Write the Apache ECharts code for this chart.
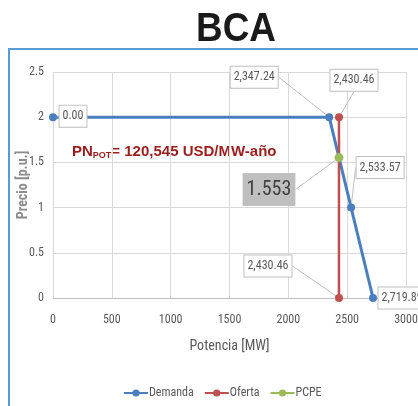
<!DOCTYPE html>
<html><head><meta charset="utf-8">
<script src="https://cdn.jsdelivr.net/npm/echarts@6/dist/echarts.min.js"></script>
<style>html,body{margin:0;padding:0;background:#fff}#c{width:418px;height:406px}</style>
</head><body><div id="c"></div>
<script>
var titleText = 'BCA';
var xTicks = [0, 500, 1000, 1500, 2000, 2500, 3000];
var yTicks = [0, 0.5, 1, 1.5, 2, 2.5];
var demandaX = [0, 2347.24, 2533.57, 2719.89];
var demandaY = [2, 2, 1, 0];
var ofertaX = [2430.46, 2430.46];
var ofertaY = [2, 0];
var pcpeX = [2430.46];
var pcpeY = [1.553];

var FONT = '"Liberation Sans Narrow", "Roboto Condensed", "Liberation Sans", sans-serif';
function fmt(v){ return v.toLocaleString('en-US',{minimumFractionDigits:2,maximumFractionDigits:2}); }
function pairs(xs, ys){ return xs.map(function(x,i){ return [x, ys[i]]; }); }

var boxLabel = {
  show: true, position: 'inside', fontFamily: FONT, fontSize: 12, color: '#595959',
  backgroundColor: '#fff', borderColor: '#bfbfbf', borderWidth: 1, padding: [5, 3, 4, 3],
  formatter: function(p){ return fmt(p.value[0]); }
};
var lblLine = { show: true, lineStyle: { color: '#bfbfbf', width: 1 } };

var demOff = [[20, -1], [-75, -40], [29, -40], [29, 0]];
var ofeOff = [[15, -37], [-71, -32]];
var pcpOff = [[-70, 32]];

var chart = echarts.init(document.getElementById('c'));
chart.setOption({
  animation: false,
  graphic: [
    { type: 'rect', shape: { x: 9, y: 49, width: 430, height: 380 }, style: { fill: 'none', stroke: '#5b9bd5', lineWidth: 2 }, z: -1 },
    { type: 'text', x: 236, y: 9, scaleX: 0.9, style: { text: titleText, textAlign: 'center', textVerticalAlign: 'top',
        font: 'bold 41px "Liberation Sans", sans-serif', fill: '#1a1a1a' } },
    { type: 'text', left: 72, top: 144, style: {
        text: '{a|PN}{b|POT}{a|= 120,545 USD/MW-año}',
        rich: {
          a: { fontFamily: '"Liberation Sans", sans-serif', fontWeight: 'bold', fontSize: 15, fill: '#9c1c1c', color: '#9c1c1c' },
          b: { fontFamily: '"Liberation Sans", sans-serif', fontWeight: 'bold', fontSize: 9, fill: '#9c1c1c', color: '#9c1c1c', padding: [9, 0, 0, 0] }
        } } }
  ],
  grid: { left: 53, top: 72, right: 12, bottom: 108, outerBoundsMode: 'none', containLabel: false },
  legend: {
    bottom: 2, left: 118, itemWidth: 24, itemHeight: 9, itemGap: 10,
    textStyle: { fontFamily: FONT, fontSize: 12, color: '#595959', padding: [0, 0, 0, -4] },
    data: ['Demanda', 'Oferta', 'PCPE']
  },
  xAxis: {
    type: 'value', min: 0, max: 3000, interval: 500,
    name: 'Potencia [MW]', nameLocation: 'middle', nameGap: 41, nameMoveOverlap: false,
    nameTextStyle: { fontFamily: FONT, fontSize: 14, color: '#595959' },
    axisLine: { show: true, lineStyle: { color: '#bfbfbf' } }, axisTick: { show: false },
    axisLabel: { fontFamily: FONT, fontSize: 12, color: '#595959', margin: 16, formatter: function(v){ return String(v); } },
    splitLine: { show: true, lineStyle: { color: '#d9d9d9' } }
  },
  yAxis: {
    type: 'value', min: 0, max: 2.5, interval: 0.5,
    name: 'Precio [p.u.]', nameLocation: 'middle', nameGap: 23, nameMoveOverlap: false,
    nameTextStyle: { fontFamily: FONT, fontSize: 14, fontWeight: 'bold', color: '#8c8c8c' },
    axisLine: { show: false }, axisTick: { show: false },
    axisLabel: { fontFamily: FONT, fontSize: 12, color: '#595959', margin: 9 },
    splitLine: { show: true, lineStyle: { color: '#d9d9d9' } }
  },
  series: [
    { name: 'Demanda', type: 'line', data: pairs(demandaX, demandaY), symbol: 'circle', symbolSize: 8,
      color: '#4a7ebf', lineStyle: { width: 3, color: '#4a7ebf' }, itemStyle: { color: '#4a7ebf' },
      label: boxLabel, labelLine: lblLine,
      labelLayout: function(p){ var o = demOff[p.dataIndex]; return { dx: o[0], dy: o[1] }; } },
    { name: 'Oferta', type: 'line', data: pairs(ofertaX, ofertaY), symbol: 'circle', symbolSize: 8,
      color: '#c0504d', lineStyle: { width: 2.5, color: '#c0504d' }, itemStyle: { color: '#c0504d' },
      label: boxLabel, labelLine: lblLine,
      labelLayout: function(p){ var o = ofeOff[p.dataIndex]; return { dx: o[0], dy: o[1] }; } },
    { name: 'PCPE', type: 'line', data: pairs(pcpeX, pcpeY), symbol: 'circle', symbolSize: 9,
      color: '#9bbb59', lineStyle: { width: 3, color: '#9bbb59' }, itemStyle: { color: '#9bbb59' },
      label: { show: true, position: 'inside', fontFamily: FONT, fontSize: 20, color: '#404040',
        backgroundColor: '#bfbfbf', padding: [7, 4, 6, 4],
        formatter: function(p){ return p.value[1].toFixed(3); } },
      labelLine: { show: true, lineStyle: { color: '#bfbfbf', width: 1 } },
      labelLayout: function(p){ var o = pcpOff[p.dataIndex]; return { dx: o[0], dy: o[1] }; } }
  ]
});
</script></body></html>
